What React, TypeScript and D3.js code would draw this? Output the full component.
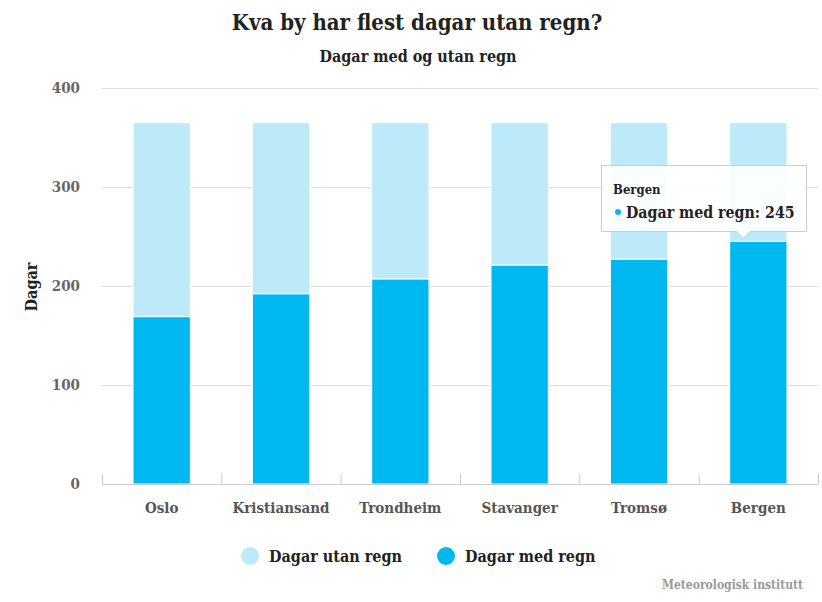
import React from "react";
import * as d3 from "d3";

const cities = ["Oslo", "Kristiansand", "Trondheim", "Stavanger", "Tromsø", "Bergen"];
const withRain = [169, 192, 207, 221, 227, 245];
const totalDays = [365, 365, 365, 365, 365, 365];
const yTicks = [0, 100, 200, 300, 400];
const seriesNames = ["Dagar utan regn", "Dagar med regn"];

const W = 822, H = 602;
const FONT = "'DejaVu Serif Condensed', 'DejaVu Serif', serif";
const LIGHT = "#bdeaf9";
const DARK = "#00b8f0";

export default function App() {
  const x = d3.scaleBand<string>().domain(cities).range([102, 818]).paddingInner(0.52).paddingOuter(0.26);
  const y = d3.scaleLinear().domain([0, 400]).range([484, 88]);
  const band = x.step();
  const tipIdx = 5;
  const tipX = (x(cities[tipIdx]) as number) + x.bandwidth() / 2 - 15;
  const tipY = y(withRain[tipIdx]);

  return (
    <svg width={W} height={H} style={{ position: "absolute", left: 0, top: 0, fontFamily: FONT }}>
      <rect width={W} height={H} fill="#fff" />
      <text x={417} y={30} textAnchor="middle" fontSize={22} fontWeight="bold" fill="#222">
        Kva by har flest dagar utan regn?
      </text>
      <text x={418} y={62} textAnchor="middle" fontSize={16} fontWeight="bold" fill="#222">
        Dagar med og utan regn
      </text>

      {yTicks.map((t) => (
        <g key={t}>
          {t > 0 && <line x1={102} x2={818} y1={y(t) + 0.5} y2={y(t) + 0.5} stroke="#e0e0e0" strokeWidth={1} />}
          <text x={80} y={y(t) + 5} textAnchor="end" fontSize={15} fontWeight="bold" fill="#666">
            {t}
          </text>
        </g>
      ))}
      <text transform={`translate(37,287) rotate(-90)`} textAnchor="middle" fontSize={16} fontWeight="bold" fill="#222">
        Dagar
      </text>

      {cities.map((c, i) => {
        const bx = x(c) as number;
        return (
          <g key={c}>
            <rect x={bx} y={y(totalDays[i])} width={x.bandwidth()} height={y(withRain[i]) - y(totalDays[i])} fill={LIGHT} stroke="#fff" strokeWidth={1} />
            <rect x={bx} y={y(withRain[i])} width={x.bandwidth()} height={y(0) - y(withRain[i])} fill={DARK} stroke="#fff" strokeWidth={1} />
            <text x={bx + x.bandwidth() / 2} y={513} textAnchor="middle" fontSize={15} fontWeight="bold" fill="#555">
              {c}
            </text>
          </g>
        );
      })}
      <line x1={102} x2={818} y1={484.5} y2={484.5} stroke="#ccc" strokeWidth={1} />
      {d3.range(cities.length + 1).map((i) => (
        <line key={i} x1={102 + i * band + 0.5} x2={102 + i * band + 0.5} y1={474} y2={484} stroke="#ccc" strokeWidth={1} />
      ))}

      {/* tooltip */}
      <g>
        <path
          d={`M601.5,165.5 H806.5 V231.5 H${tipX + 7} L${tipX},${tipY - 3} L${tipX - 7},231.5 H601.5 Z`}
          fill="#fff"
          fillOpacity={0.92}
          stroke="#ccc"
          strokeWidth={1}
        />
        <text x={613} y={194} fontSize={13} fontWeight="bold" fill="#222">
          {cities[tipIdx]}
        </text>
        <circle cx={618} cy={212} r={3} fill={DARK} />
        <text x={626} y={218} fontSize={15.8} fontWeight="bold" fill="#222">
          {`${seriesNames[1]}: ${withRain[tipIdx]}`}
        </text>
      </g>

      {/* legend */}
      {seriesNames.map((s, i) => (
        <g key={s} transform={`translate(${i === 0 ? 250 : 446},556)`}>
          <circle r={9} fill={i === 0 ? LIGHT : DARK} />
          <text x={19} y={6} fontSize={16} fontWeight="bold" fill="#222">
            {s}
          </text>
        </g>
      ))}

      <text x={803} y={589} textAnchor="end" fontSize={12} fontWeight="bold" fill="#999">
        Meteorologisk institutt
      </text>
    </svg>
  );
}
